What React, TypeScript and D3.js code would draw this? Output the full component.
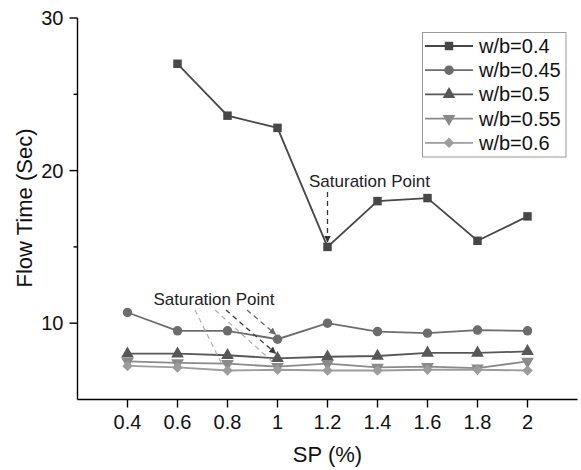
import React from "react";
import * as d3 from "d3";

// SP dosage (%) on the x axis
const spLevels = [0.4, 0.6, 0.8, 1.0, 1.2, 1.4, 1.6, 1.8, 2.0];

// Flow time (sec) per water/binder ratio
const wb040 = [null, 27.0, 23.6, 22.8, 15.0, 18.0, 18.2, 15.4, 17.0];
const wb045 = [10.7, 9.5, 9.5, 8.95, 10.0, 9.45, 9.35, 9.55, 9.5];
const wb050 = [8.0, 8.0, 7.9, 7.7, 7.8, 7.85, 8.05, 8.05, 8.15];
const wb055 = [7.5, 7.4, 7.35, 7.15, 7.35, 7.1, 7.15, 7.05, 7.5];
const wb060 = [7.2, 7.1, 6.9, 6.95, 6.9, 6.9, 6.95, 6.95, 6.9];

const seriesNames = ["w/b=0.4", "w/b=0.45", "w/b=0.5", "w/b=0.55", "w/b=0.6"];
const xTicks = [0.4, 0.6, 0.8, 1, 1.2, 1.4, 1.6, 1.8, 2];
const yTicks = [10, 20, 30];
const yMinorTicks = [15, 25];

const FONT = "'Liberation Sans', Arial, Helvetica, sans-serif";

type Series = {
  name: string;
  values: (number | null)[];
  color: string;
  symbol: d3.SymbolType;
  rotate: number;
  size: number;
};

const series: Series[] = [
  { name: seriesNames[0], values: wb040, color: "#474747", symbol: d3.symbolSquare, rotate: 0, size: 72 },
  { name: seriesNames[1], values: wb045, color: "#6c6c6c", symbol: d3.symbolCircle, rotate: 0, size: 70 },
  { name: seriesNames[2], values: wb050, color: "#575757", symbol: d3.symbolTriangle, rotate: 0, size: 70 },
  { name: seriesNames[3], values: wb055, color: "#8a8a8a", symbol: d3.symbolTriangle, rotate: 180, size: 70 },
  { name: seriesNames[4], values: wb060, color: "#9c9c9c", symbol: d3.symbolSquare, rotate: 45, size: 56 },
];

// saturation-point callouts: [series index, SP value, stroke colour, arrowhead]
const lowerCallouts: [number, number, string, boolean][] = [
  [4, 0.8, "#b4b4b4", false],
  [3, 1.0, "#b0b0b0", false],
  [2, 1.0, "#3a3a3a", true],
  [1, 1.0, "#6a6a6a", true],
];

export default function App() {
  const width = 581;
  const height = 470;
  const x = d3.scaleLinear().domain([0.2, 2.2]).range([77.5, 577.5]);
  const y = d3.scaleLinear().domain([5, 30]).range([399.5, 18]);

  const line = d3
    .line<[number, number | null]>()
    .defined((d) => d[1] !== null)
    .x((d) => x(d[0]))
    .y((d) => y(d[1] as number));

  const sym = (s: Series) => d3.symbol().type(s.symbol).size(s.size)() as string;

  const lowerTextX = 214;
  const lowerTextY = 305;

  return (
    <svg width={width} height={height} style={{ position: "absolute", left: 0, top: 0, background: "#fff" }}>
      <defs>
        {["#3a3a3a", "#6a6a6a", "#333"].map((c, i) => (
          <marker
            key={i}
            id={`arr${i}`}
            viewBox="0 0 10 10"
            refX="9"
            refY="5"
            markerWidth="7"
            markerHeight="7"
            orient="auto"
            markerUnits="userSpaceOnUse"
          >
            <path d="M0,0 L10,5 L0,10 Z" fill={c} />
          </marker>
        ))}
      </defs>

      {/* axes */}
      <g stroke="#000" strokeWidth={1.4} fill="none">
        <line x1={x(0.2)} x2={x(0.2)} y1={y(30)} y2={y(5)} />
        <line x1={x(0.2)} x2={x(2.2)} y1={y(5)} y2={y(5)} />
        {yTicks.map((t) => (
          <line key={t} x1={x(0.2) - 8} x2={x(0.2)} y1={y(t)} y2={y(t)} />
        ))}
        {yMinorTicks.map((t) => (
          <line key={t} x1={x(0.2) - 4} x2={x(0.2)} y1={y(t)} y2={y(t)} />
        ))}
        {xTicks.map((t) => (
          <line key={t} x1={x(t)} x2={x(t)} y1={y(5)} y2={y(5) + 8} />
        ))}
      </g>
      <g fontFamily={FONT} fontSize={20} fill="#111">
        {yTicks.map((t) => (
          <text key={t} x={x(0.2) - 14} y={y(t)} dy="0.35em" textAnchor="end">
            {t}
          </text>
        ))}
        {xTicks.map((t) => (
          <text key={t} x={x(t)} y={429} textAnchor="middle">
            {String(t)}
          </text>
        ))}
      </g>
      <text x={x(1.2)} y={462} textAnchor="middle" fontFamily={FONT} fontSize={22} fill="#111">
        SP (%)
      </text>
      <text
        transform="translate(32,208) rotate(-90)"
        textAnchor="middle"
        fontFamily={FONT}
        fontSize={22}
        fill="#111"
      >
        Flow Time (Sec)
      </text>

      {/* series lines and markers */}
      {series.map((s, si) => (
        <g key={si}>
          <path
            d={line(spLevels.map((v, i) => [v, s.values[i]] as [number, number | null])) as string}
            fill="none"
            stroke={s.color}
            strokeWidth={1.8}
          />
          {spLevels.map((v, i) =>
            s.values[i] === null ? null : (
              <path
                key={i}
                d={sym(s)}
                fill={s.color}
                transform={`translate(${x(v)},${y(s.values[i] as number)}) rotate(${s.rotate})`}
              />
            )
          )}
        </g>
      ))}

      {/* saturation point, w/b=0.4 */}
      <text x={309} y={187} fontFamily={FONT} fontSize={17} fill="#222">
        Saturation Point
      </text>
      <line
        x1={x(1.2)}
        x2={x(1.2)}
        y1={192}
        y2={y(15) - 5}
        stroke="#333"
        strokeWidth={1.3}
        strokeDasharray="5,4"
        markerEnd="url(#arr2)"
      />

      {/* saturation points, lower ratios */}
      <text x={lowerTextX} y={lowerTextY} textAnchor="middle" fontFamily={FONT} fontSize={17} fill="#222">
        Saturation Point
      </text>
      {lowerCallouts.map(([si, sp, c, arrow], k) => {
        const i = spLevels.indexOf(sp);
        const tx = x(sp);
        const ty = y(series[si].values[i] as number) - 5;
        const sx = [195, 215, 226, 247][k];
        return (
          <line
            key={k}
            x1={sx}
            y1={310}
            x2={tx - (arrow ? 2 : 5)}
            y2={ty}
            stroke={c}
            strokeWidth={1.3}
            strokeDasharray="5,4"
            markerEnd={arrow ? `url(#arr${k === 2 ? 0 : 1})` : undefined}
          />
        );
      })}

      {/* legend */}
      <g>
        <rect x={422.5} y={32.5} width={143.5} height={124.5} fill="#fff" stroke="#999" strokeWidth={1} />
        {series.map((s, i) => {
          const ly = 46 + i * 24.2;
          return (
            <g key={i}>
              <line x1={425} x2={473} y1={ly} y2={ly} stroke={s.color} strokeWidth={1.8} />
              <path d={sym(s)} fill={s.color} transform={`translate(449,${ly}) rotate(${s.rotate})`} />
              <text x={479} y={ly} dy="0.35em" fontFamily={FONT} fontSize={20} fill="#111">
                {s.name}
              </text>
            </g>
          );
        })}
      </g>
    </svg>
  );
}
